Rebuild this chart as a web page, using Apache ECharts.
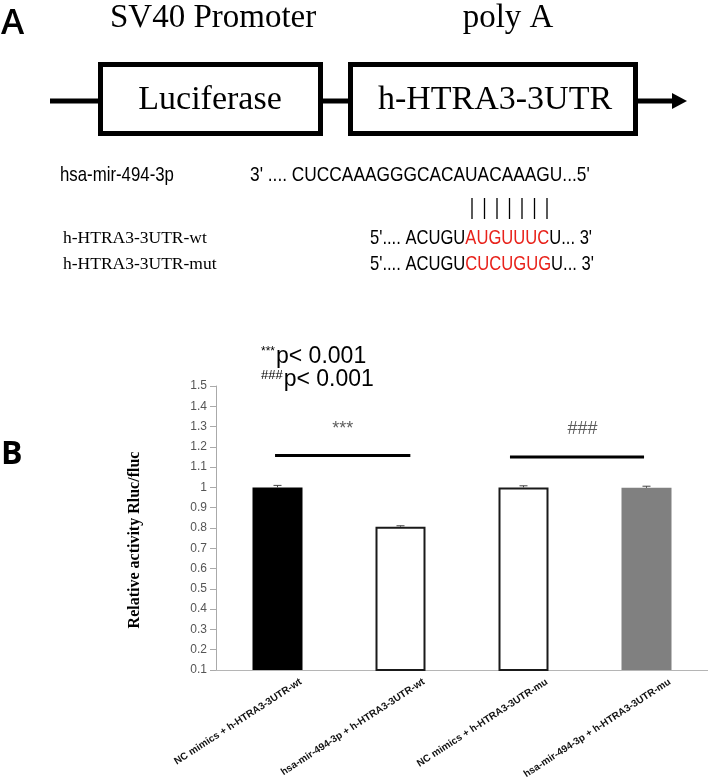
<!DOCTYPE html>
<html>
<head>
<meta charset="utf-8">
<script src="https://cdn.jsdelivr.net/npm/echarts@6/dist/echarts.min.js"></script>
<style>
html,body{margin:0;padding:0;background:#fff;}
#chart{width:708px;height:778px;}
</style>
</head>
<body>
<div id="chart"></div>
<script>
// ---- data ----
const categories = [
  'NC mimics + h-HTRA3-3UTR-wt',
  'hsa-mir-494-3p + h-HTRA3-3UTR-wt',
  'NC mimics + h-HTRA3-3UTR-mu',
  'hsa-mir-494-3p + h-HTRA3-3UTR-mu'
];
const values = [1.0, 0.806, 1.0, 0.998];
const errors = [0.010, 0.005, 0.008, 0.008];
const yMin = 0.1, yMax = 1.5, yStep = 0.1;
const yAxisName = 'Relative activity Rluc/fluc';
// significance brackets: [xStart, xEnd] in category units, y value
const sigLineX = [[-0.02, 1.08], [1.89, 2.98]];
const sigLineY = [1.157, 1.150];
const sigLabels = ['***', '###'];
const sigLabelX = [0.53, 2.48];
const sigLabelY = [1.29, 1.29];
const legendNotes = [['***', 'p< 0.001'], ['###', 'p< 0.001']];
// schematic texts
const promoterLabel = 'SV40 Promoter';
const polyALabel = 'poly A';
const box1Label = 'Luciferase';
const box2Label = 'h-HTRA3-3UTR';
const mirName = 'hsa-mir-494-3p';
const mirSeq = "3' .... CUCCAAAGGGCACAUACAAAGU...5'";
const wtName = 'h-HTRA3-3UTR-wt';
const mutName = 'h-HTRA3-3UTR-mut';
const wtSeq = ["5'.... ACUGU", 'AUGUUUC', "U... 3'"];
const mutSeq = ["5'.... ACUGU", 'CUCUGUG', "U... 3'"];
const pairCount = 7;

// ---- styles ----
const barFill = ['#000000', '#ffffff', '#ffffff', '#808080'];
const barStroke = ['#000000', '#1a1a1a', '#1a1a1a', '#808080'];
const barStrokeW = [0, 2, 2, 0];
const labelShift = 0.19;
const SERIF = '"Liberation Serif", "Times New Roman", serif';
const SANS = '"Liberation Sans", Arial, sans-serif';
const RED = '#e8221b';

const chart = echarts.init(document.getElementById('chart'), null, {renderer: 'canvas'});

const graphics = [];
// Panel letters
graphics.push({type: 'text', style: {x: 1, y: 24, text: 'A', font: '600 35px "Open Sans", sans-serif', fill: '#000', verticalAlign: 'middle'}});
graphics.push({type: 'text', style: {x: 1, y: 455, text: 'B', font: '700 32px "Open Sans", sans-serif', fill: '#000', verticalAlign: 'middle'}});
// Schematic headings
graphics.push({type: 'text', style: {x: 110, y: 18, text: promoterLabel, font: '33px ' + SERIF, fill: '#000', verticalAlign: 'middle'}});
graphics.push({type: 'text', style: {x: 508, y: 18, text: polyALabel, font: '33px ' + SERIF, fill: '#000', align: 'center', verticalAlign: 'middle'}});
// construct lines and boxes
const lineY = 101;
graphics.push({type: 'line', shape: {x1: 50, y1: lineY, x2: 98, y2: lineY}, style: {stroke: '#000', lineWidth: 5}});
graphics.push({type: 'line', shape: {x1: 323, y1: lineY, x2: 348, y2: lineY}, style: {stroke: '#000', lineWidth: 5}});
graphics.push({type: 'line', shape: {x1: 638, y1: lineY, x2: 674, y2: lineY}, style: {stroke: '#000', lineWidth: 5}});
graphics.push({type: 'polygon', shape: {points: [[672, lineY - 8], [687, lineY], [672, lineY + 8]]}, style: {fill: '#000'}});
graphics.push({type: 'rect', shape: {x: 100.5, y: 64.5, width: 220, height: 69}, style: {fill: '#fff', stroke: '#000', lineWidth: 5}});
graphics.push({type: 'rect', shape: {x: 350.5, y: 64.5, width: 285, height: 69}, style: {fill: '#fff', stroke: '#000', lineWidth: 5}});
graphics.push({type: 'text', style: {x: 210, y: 100, text: box1Label, font: '34px ' + SERIF, fill: '#000', align: 'center', verticalAlign: 'middle'}});
graphics.push({type: 'text', style: {x: 495, y: 100, text: box2Label, font: '34px ' + SERIF, fill: '#000', align: 'center', verticalAlign: 'middle'}});
// sequences (condensed sans via horizontal scale)
function narrowText(txt, x, y, sx) {
  return {type: 'text', x: x, y: y, scaleX: sx, scaleY: 1,
    style: {x: 0, y: 0, text: txt, font: '21px ' + SANS, fill: '#000', verticalAlign: 'middle'}};
}
graphics.push(narrowText(mirName, 60, 175, 0.80));
graphics.push(narrowText(mirSeq, 250, 175, 0.825));
for (let i = 0; i < pairCount; i++) {
  const px = 472 + i * 12.5;
  graphics.push({type: 'line', shape: {x1: px, y1: 198, x2: px, y2: 219}, style: {stroke: '#000', lineWidth: 1.3}});
}
graphics.push({type: 'text', style: {x: 63, y: 238, text: wtName, font: '17.5px ' + SERIF, fill: '#000', verticalAlign: 'middle'}});
graphics.push({type: 'text', style: {x: 63, y: 264, text: mutName, font: '17.5px ' + SERIF, fill: '#000', verticalAlign: 'middle'}});
function seqRich(parts, y) {
  return {type: 'text', x: 370, y: y, scaleX: 0.79, scaleY: 1,
    style: {x: 0, y: 0, verticalAlign: 'middle',
    text: '{k|' + parts[0] + '}{r|' + parts[1] + '}{k|' + parts[2] + '}',
    rich: {k: {font: '21px ' + SANS, fill: '#000'}, r: {font: '21px ' + SANS, fill: RED}}}};
}
graphics.push(seqRich(wtSeq, 238));
graphics.push(seqRich(mutSeq, 264));
// p-value notes
legendNotes.forEach((n, i) => {
  graphics.push({type: 'text', style: {x: 261, y: 357 + i * 23, verticalAlign: 'middle',
    text: '{s|' + n[0] + '}{p|' + n[1] + '}',
    rich: {s: {font: (i === 0 ? '12px ' : '13px ') + SANS, fill: '#000', padding: [0, 1, 10, 0]},
           p: {font: '23px ' + SANS, fill: '#000'}}}});
});

const series = [];
series.push({
  type: 'bar', xAxisIndex: 0, yAxisIndex: 0, barWidth: 50,
  data: values.map((v, i) => ({value: v, itemStyle: {color: barFill[i], borderColor: barStroke[i], borderWidth: barStrokeW[i]}})),
  z: 2
});
series.push({
  type: 'custom', xAxisIndex: 0, yAxisIndex: 0, z: 5,
  data: values.map((v, i) => [i, v, v + errors[i]]),
  renderItem: function (params, api) {
    const p0 = api.coord([api.value(0), api.value(1)]);
    const p1 = api.coord([api.value(0), api.value(2)]);
    return {type: 'group', children: [
      {type: 'line', shape: {x1: p0[0], y1: p0[1], x2: p1[0], y2: p1[1]}, style: {stroke: '#444', lineWidth: 1}},
      {type: 'line', shape: {x1: p1[0] - 4, y1: p1[1], x2: p1[0] + 4, y2: p1[1]}, style: {stroke: '#444', lineWidth: 1}}
    ]};
  }
});
sigLineX.forEach((xs, i) => {
  series.push({type: 'line', xAxisIndex: 1, yAxisIndex: 0, symbol: 'none', silent: true,
    data: [[xs[0], sigLineY[i]], [xs[1], sigLineY[i]]],
    lineStyle: {color: '#000', width: 3}, z: 4});
});
series.push({type: 'scatter', xAxisIndex: 1, yAxisIndex: 0, symbolSize: 0, silent: true,
  data: sigLabels.map((s, i) => ({name: s, value: [sigLabelX[i], sigLabelY[i]]})),
  label: {show: true, position: 'inside', formatter: '{b}', fontSize: 18, color: '#333', fontFamily: SANS}});

const option = {
  animation: false,
  backgroundColor: '#fff',
  graphic: graphics,
  grid: {left: 216, right: 0, top: 386, bottom: 108, containLabel: false, outerBoundsMode: 'none'},
  xAxis: [
    {type: 'category', data: categories, position: 'bottom',
     axisLine: {show: true, onZero: false, lineStyle: {color: '#b5b5b5', width: 1}},
     axisTick: {show: false}, axisLabel: {show: false}, splitLine: {show: false}},
    {type: 'value', min: -0.5, max: 3.5, position: 'bottom',
     axisLine: {show: false, onZero: false}, axisTick: {show: false}, splitLine: {show: false},
     axisLabel: {show: true, customValues: categories.map((c, i) => i + labelShift),
       formatter: function (v) { return categories[Math.round(v - labelShift)] || ''; },
       rotate: 33, margin: 11, fontSize: 10, fontWeight: 'bold', color: '#111', fontFamily: SANS}}
  ],
  yAxis: {
    type: 'value', min: yMin, max: yMax, interval: yStep,
    name: yAxisName, nameLocation: 'middle', nameGap: 73, nameRotate: 90,
    nameTextStyle: {fontFamily: SERIF, fontWeight: 'bold', fontSize: 16, color: '#000', padding: [0, 24, 0, 0]},
    axisLine: {show: true, onZero: false, lineStyle: {color: '#aaa', width: 1}},
    axisTick: {show: true, length: 6, lineStyle: {color: '#aaa'}},
    axisLabel: {margin: 9, color: '#555', fontSize: 12, fontFamily: SANS,
      formatter: function (v) { return String(Math.round(v * 10) / 10); }},
    splitLine: {show: false}
  },
  series: series
};
chart.setOption(option);
</script>
</body>
</html>
